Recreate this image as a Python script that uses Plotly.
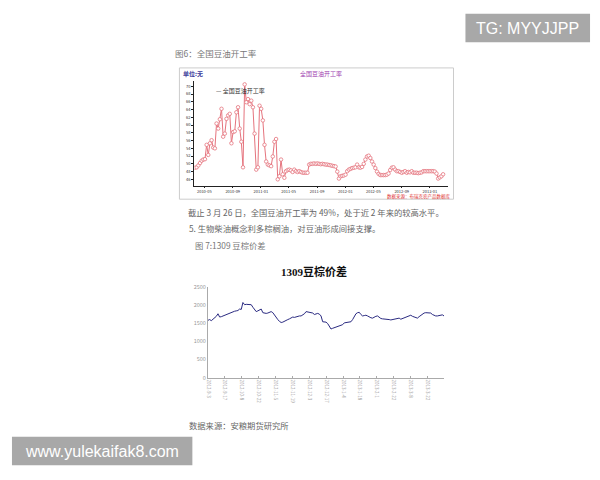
import pandas as pd
import numpy as np
import plotly.graph_objects as go

# ---------- Chart 1: 全国豆油开工率 (weekly) ----------
rate_values = [
    49.0, 49.1, 49.6, 50.2, 50.8, 51.1, 51.2, 54.9, 52.3, 55.3,
    56.1, 54.2, 54.0, 60.4, 59.1, 61.5, 64.2, 57.0, 57.8, 61.6,
    62.5, 62.9, 55.3, 58.2, 58.4, 63.3, 64.6, 59.1, 55.7, 49.1,
    70.5, 65.9, 66.7, 65.4, 66.3, 64.6, 57.8, 48.5, 49.1, 65.0,
    64.2, 61.2, 54.9, 50.6, 49.8, 49.6, 49.4, 51.9, 55.7, 56.4,
    46.0, 46.8, 51.1, 47.3, 46.4, 48.1, 48.4, 48.5, 48.3, 47.9,
    48.5, 48.1, 47.9, 48.1, 47.9, 47.7, 47.7, 47.7, 47.7, 49.8,
    50.0, 50.0, 50.1, 50.0, 50.1, 50.0, 49.9, 50.0, 49.9, 49.8,
    49.8, 49.7, 49.6, 49.5, 49.4, 49.3, 48.0, 46.2, 46.8, 46.9,
    47.0, 47.2, 48.1, 48.5, 48.7, 48.9, 49.0, 49.1, 49.8, 49.1,
    49.0, 49.2, 50.0, 51.1, 51.9, 52.1, 51.5, 50.6, 49.8, 48.9,
    48.0, 47.4, 47.1, 47.1, 47.1, 47.1, 47.2, 47.5, 48.4, 49.0,
    49.1, 48.5, 48.1, 48.1, 47.9, 47.7, 47.9, 48.1, 47.7, 47.9,
    47.8, 48.1, 47.7, 47.7, 47.7, 47.6, 47.7, 47.8, 48.1, 48.1,
    48.1, 48.1, 48.1, 48.1, 48.1, 48.0, 47.5, 46.2, 46.5, 46.8,
    47.3,
]
rate_dates = pd.date_range("2010-03-22", "2013-02-27", periods=len(rate_values))
rate_ticks = ["2010-05-01", "2010-09-01", "2011-01-01", "2011-05-01", "2011-09-01",
              "2012-01-01", "2012-05-01", "2012-09-01", "2013-01-01"]
rate_yticks = [46, 48, 50, 52, 54, 56, 58, 60, 62, 64, 66, 68, 70]

# ---------- Chart 2: 1309豆棕价差 (daily) ----------
spread_values = [
    1580, 1600, 1570, 1610, 1650, 1690, 1760, 1670, 1680, 1700,
    1720, 1740, 1770, 1790, 1800, 1820, 1830, 1840, 1850, 1890,
    1880, 2070, 2010, 2020, 2020, 2010, 2010, 1940, 1860, 1820,
    1840, 1870, 1890, 1790, 1770, 1770, 1780, 1790, 1820, 1790,
    1720, 1670, 1600, 1550, 1520, 1530, 1560, 1580, 1600, 1620,
    1650, 1670, 1660, 1680, 1700, 1700, 1700, 1720, 1760, 1820,
    1810, 1800, 1790, 1780, 1740, 1760, 1770, 1750, 1700, 1540,
    1530, 1530, 1490, 1420, 1340, 1360, 1380, 1400, 1410, 1430,
    1440, 1460, 1510, 1520, 1510, 1530, 1540, 1600, 1700, 1760,
    1790, 1800, 1740, 1700, 1710, 1720, 1700, 1670, 1650, 1640,
    1670, 1690, 1700, 1660, 1630, 1620, 1620, 1610, 1600, 1600,
    1590, 1600, 1600, 1630, 1640, 1640, 1610, 1630, 1650, 1660,
    1670, 1700, 1720, 1690, 1670, 1650, 1640, 1680, 1720, 1760,
    1780, 1790, 1790, 1790, 1780, 1740, 1710, 1700, 1700, 1710,
    1720, 1730, 1700,
]
spread_tick_labels = ["2012-9-3", "2012-9-17", "2012-10-8", "2012-10-22", "2012-11-5",
                      "2012-11-19", "2012-12-3", "2012-12-17", "2013-1-4", "2013-1-18",
                      "2013-2-1", "2013-2-22", "2013-3-8", "2013-3-22"]
spread_yticks = [0, 500, 1000, 1500, 2000, 2500]

W, H = 600, 480
def X(px):
    return px / W
def Y(py):
    return 1 - py / H

CJK = "Noto Sans CJK SC, Noto Sans, sans-serif"

fig = go.Figure()

fig.add_trace(go.Scatter(
    x=rate_dates, y=rate_values, mode="lines+markers",
    line=dict(color="#e5737d", width=1),
    marker=dict(symbol="circle", size=3.5, color="white",
                line=dict(color="#e5737d", width=0.8)),
    xaxis="x", yaxis="y", showlegend=False,
))

spread_x = np.arange(len(spread_values))
fig.add_trace(go.Scatter(
    x=spread_x, y=spread_values, mode="lines",
    line=dict(color="#2a2a80", width=1),
    xaxis="x2", yaxis="y2", showlegend=False,
))

fig.update_layout(
    width=W, height=H, margin=dict(l=0, r=0, t=0, b=0),
    paper_bgcolor="white", plot_bgcolor="white",
    font=dict(family=CJK, color="#333"),
    xaxis=dict(domain=[X(193), X(447)], type="date",
               range=["2010-03-19", "2013-03-18"],
               tickvals=rate_ticks, tickformat="%Y-%m",
               tickfont=dict(size=4, color="#333"),
               showline=True, linecolor="#222", linewidth=1,
               ticks="outside", ticklen=1.5, tickcolor="#222",
               showgrid=False, zeroline=False, anchor="y"),
    yaxis=dict(domain=[Y(185), Y(78)], range=[44.3, 71.45],
               tickvals=rate_yticks, tickfont=dict(size=4, color="#333"),
               showline=True, linecolor="#222", linewidth=1,
               ticks="outside", ticklen=2, tickcolor="#222",
               showgrid=False, zeroline=False, anchor="x"),
    xaxis2=dict(domain=[X(206.7), X(443.5)], range=[0, len(spread_values) - 1],
                tickvals=list(np.linspace(0, 132, len(spread_tick_labels))),
                ticktext=spread_tick_labels, tickangle=90,
                tickfont=dict(size=4.5, color="#999"),
                showline=True, linecolor="#aaa", linewidth=1,
                ticks="inside", ticklen=2, tickcolor="#aaa",
                showgrid=False, zeroline=False, anchor="y2"),
    yaxis2=dict(domain=[Y(380), Y(287.7)], range=[0, 2500],
                tickvals=spread_yticks, tickfont=dict(size=5.5, color="#999"),
                showline=True, linecolor="#aaa", linewidth=1,
                ticks="", showgrid=False, zeroline=False, anchor="x2"),
)

shapes = [
    dict(type="rect", xref="paper", yref="paper",
         x0=X(178), x1=X(453), y0=Y(198.5), y1=Y(65),
         line=dict(color="#cccccc", width=1), fillcolor="rgba(0,0,0,0)"),
    dict(type="rect", xref="paper", yref="paper",
         x0=X(465), x1=X(590), y0=Y(39), y1=Y(10),
         line=dict(width=0), fillcolor="#a8a8a8"),
    dict(type="rect", xref="paper", yref="paper",
         x0=X(10), x1=X(191), y0=Y(469), y1=Y(440),
         line=dict(width=0), fillcolor="#a8a8a8"),
]
fig.update_layout(shapes=shapes)

def ann(text, px, py, size, color, xanchor="left", family=CJK):
    return dict(text=text, x=X(px), y=Y(py), xref="paper", yref="paper",
                xanchor=xanchor, yanchor="middle", showarrow=False,
                font=dict(size=size, color=color, family=family))

annotations = [
    ann("图6：全国豆油开工率", 172, 50, 8.5, "#777"),
    ann("<b>单位:无</b>", 180, 71, 6, "#3b3b9a"),
    ann("全国豆油开工率", 320, 71, 6, "#a040b0", xanchor="center"),
    ann("— 全国豆油开工率", 213, 88, 6, "#333"),
    ann("数据来源：布瑞克农产品数据库", 452, 196, 4.5, "#e03030", xanchor="right"),
    ann("截止 3 月 26 日，全国豆油开工率为 49%，处于近 2 年来的较高水平。", 185, 212, 8.3, "#666"),
    ann("5. 生物柴油概念利多棕榈油，对豆油形成间接支撑。", 186, 228, 8.3, "#666"),
    ann("图 7:1309 豆棕价差", 192, 245, 8.3, "#777"),
    ann("<b>1309豆棕价差</b>", 313, 272, 11, "#111", xanchor="center",
        family="Liberation Serif, Noto Sans CJK SC, serif"),
    ann("数据来源：安粮期货研究所", 186, 428, 8.3, "#666"),
    ann("TG: MYYJJPP", 527.5, 24.5, 16, "white", xanchor="center",
        family="Liberation Sans, Arial, sans-serif"),
    ann("www.yulekaifak8.com", 100.5, 455, 16, "white", xanchor="center",
        family="Liberation Sans, Arial, sans-serif"),
]
fig.update_layout(annotations=annotations)

fig.write_html("out.html", config={"displayModeBar": False},
               post_script="document.body.style.margin='0';document.body.style.padding='0';")
